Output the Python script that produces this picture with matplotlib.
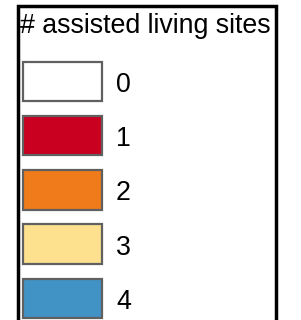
import matplotlib.pyplot as plt
from matplotlib.patches import Rectangle

title = '# assisted living sites'
labels = ['0', '1', '2', '3', '4']
colors = ['#ffffff', '#ca0020', '#ef7b1a', '#fee18f', '#4193c6']

plt.rcParams['font.family'] = ['Liberation Sans', 'DejaVu Sans']

fig = plt.figure(figsize=(3.01, 3.20), dpi=100)
ax = fig.add_axes([0, 0, 1, 1])
ax.set_xlim(0, 301)
ax.set_ylim(320, 0)
ax.axis('off')

# legend frame (runs off the bottom edge)
ax.add_patch(Rectangle((17.5, 5.5), 258.5, 330, facecolor='white',
                       edgecolor='black', linewidth=2.5))
ax.text(20.5, 33, title, fontsize=19.3, va='baseline', ha='left')

top0, step = 61.5, 54.25
for i, (lab, c) in enumerate(zip(labels, colors)):
    y = top0 + i * step
    ax.add_patch(Rectangle((22.5, y), 79.5, 39.5, facecolor=c,
                           edgecolor='#606060', linewidth=1.6))
    ax.text(116, y + 30.5, lab, fontsize=19.3, va='baseline', ha='left')

fig.savefig('out.png', dpi=100)
